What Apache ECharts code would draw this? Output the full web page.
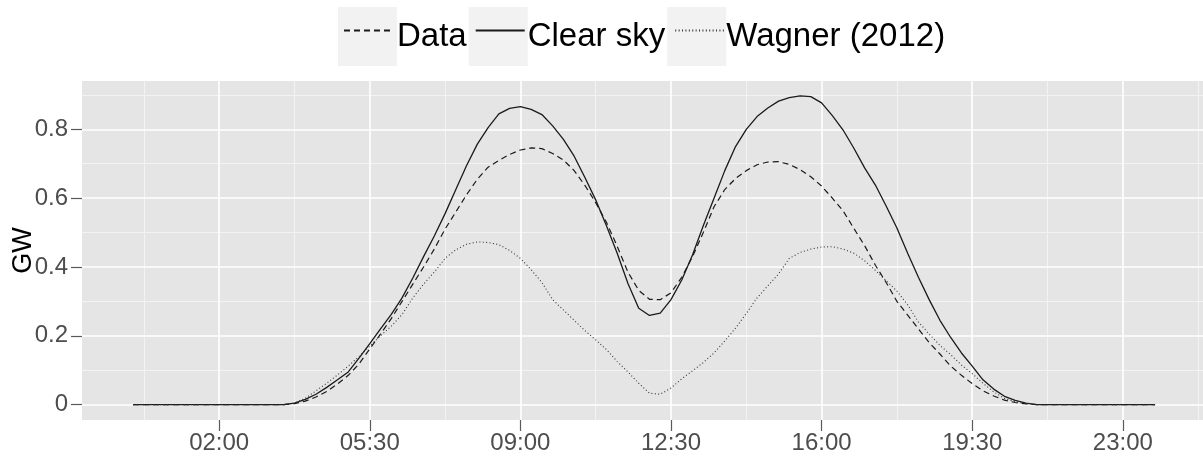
<!DOCTYPE html>
<html>
<head>
<meta charset="utf-8">
<script src="https://cdn.jsdelivr.net/npm/echarts@6/dist/echarts.min.js"></script>
<style>
  html, body { margin: 0; padding: 0; background: #ffffff; }
  #chart { width: 1203px; height: 457px; }
</style>
</head>
<body>
<div id="chart"></div>
<script>
// Quarter-hour sampling times over the day
const times = [
  '00:00','00:15','00:30','00:45','01:00','01:15','01:30','01:45',
  '02:00','02:15','02:30','02:45','03:00','03:15','03:30','03:45',
  '04:00','04:15','04:30','04:45','05:00','05:15','05:30','05:45',
  '06:00','06:15','06:30','06:45','07:00','07:15','07:30','07:45',
  '08:00','08:15','08:30','08:45','09:00','09:15','09:30','09:45',
  '10:00','10:15','10:30','10:45','11:00','11:15','11:30','11:45',
  '12:00','12:15','12:30','12:45','13:00','13:15','13:30','13:45',
  '14:00','14:15','14:30','14:45','15:00','15:15','15:30','15:45',
  '16:00','16:15','16:30','16:45','17:00','17:15','17:30','17:45',
  '18:00','18:15','18:30','18:45','19:00','19:15','19:30','19:45',
  '20:00','20:15','20:30','20:45','21:00','21:15','21:30','21:45',
  '22:00','22:15','22:30','22:45','23:00','23:15','23:30','23:45'
];

// Power output, GW
const measured = [
  0,0,0,0,0,0,0,0, 0,0,0,0,0,0,0,0.003,
  0.010,0.022,0.038,0.060,0.085,0.118,0.162,0.205,
  0.250,0.300,0.350,0.400,0.452,0.510,0.560,0.610,
  0.655,0.690,0.710,0.727,0.740,0.746,0.744,0.730,
  0.711,0.680,0.637,0.587,0.530,0.460,0.385,0.332,
  0.306,0.305,0.325,0.370,0.430,0.500,0.575,0.625,
  0.657,0.680,0.697,0.705,0.706,0.698,0.683,0.662,
  0.635,0.600,0.563,0.512,0.462,0.405,0.355,0.300,
  0.260,0.220,0.180,0.147,0.112,0.085,0.061,0.040,
  0.025,0.013,0.006,0.002,0,0,0,0,
  0,0,0,0,0,0,0,0
];

const clearSky = [
  0,0,0,0,0,0,0,0, 0,0,0,0,0,0,0,0.004,
  0.015,0.030,0.050,0.072,0.095,0.135,0.177,0.220,
  0.262,0.310,0.368,0.430,0.490,0.555,0.625,0.695,
  0.757,0.805,0.845,0.861,0.866,0.858,0.843,0.810,
  0.771,0.722,0.660,0.595,0.520,0.440,0.352,0.280,
  0.259,0.266,0.305,0.362,0.435,0.520,0.600,0.680,
  0.750,0.800,0.837,0.862,0.882,0.892,0.897,0.895,
  0.877,0.840,0.798,0.745,0.688,0.638,0.577,0.513,
  0.440,0.370,0.305,0.245,0.195,0.150,0.112,0.072,
  0.045,0.024,0.012,0.004,0,0,0,0,
  0,0,0,0,0,0,0,0
];

const wagner = [
  0,0,0,0,0,0,0,0, 0,0,0,0,0,0,0,0.004,
  0.018,0.040,0.062,0.086,0.112,0.140,0.170,0.200,
  0.228,0.262,0.310,0.350,0.385,0.425,0.450,0.466,
  0.473,0.471,0.465,0.448,0.425,0.392,0.355,0.305,
  0.275,0.245,0.215,0.188,0.160,0.125,0.095,0.062,
  0.033,0.030,0.048,0.075,0.098,0.122,0.150,0.185,
  0.222,0.265,0.310,0.345,0.380,0.425,0.442,0.452,
  0.458,0.459,0.452,0.440,0.418,0.390,0.360,0.330,
  0.290,0.240,0.205,0.172,0.145,0.115,0.090,0.062,
  0.037,0.018,0.008,0.003,0,0,0,0,
  0,0,0,0,0,0,0,0
];

const seriesNames = ['Data', 'Clear sky', 'Wagner (2012)'];
const xTickLabels = ['02:00', '05:30', '09:00', '12:30', '16:00', '19:30', '23:00'];
const yTickValues = [0, 0.2, 0.4, 0.6, 0.8];
const yMinorValues = [0.1, 0.3, 0.5, 0.7, 0.9];

function toMinutes(t) {
  const parts = t.split(':').map(Number);
  return parts[0] * 60 + parts[1];
}
function toClock(min) {
  const h = Math.floor(min / 60), m = Math.round(min % 60);
  return String(h).padStart(2, '0') + ':' + String(m).padStart(2, '0');
}
function pairs(values) {
  return times.map((t, i) => [toMinutes(t), values[i]]);
}

const xTicks = xTickLabels.map(toMinutes);
const xStep = xTicks[1] - xTicks[0];
const xMinor = xTicks.map(v => v - xStep / 2).concat([xTicks[xTicks.length - 1] + xStep / 2]);

const FONT = '"Liberation Sans", Arial, Helvetica, sans-serif';
const LINE = '#1a1a1a';

// Panel grid lines (major white, minor lighter), drawn beneath the curves
const gridLines = []
  .concat(xMinor.map(v => ({ xAxis: v, lineStyle: { color: '#f3f3f3', width: 1, type: 'solid' } })))
  .concat(yMinorValues.map(v => ({ yAxis: v, lineStyle: { color: '#f3f3f3', width: 1, type: 'solid' } })))
  .concat(xTicks.map(v => ({ xAxis: v, lineStyle: { color: '#ffffff', width: 1.6, type: 'solid' } })))
  .concat(yTickValues.map(v => ({ yAxis: v, lineStyle: { color: '#ffffff', width: 1.6, type: 'solid' } })));

const chart = echarts.init(document.getElementById('chart'), null, { renderer: 'canvas' });

chart.setOption({
  animation: false,
  backgroundColor: '#ffffff',
  textStyle: { fontFamily: FONT },
  grid: {
    left: 82, right: 0, top: 81, bottom: 37,
    outerBoundsMode: 'none',
    containLabel: false,
    show: true, backgroundColor: '#e5e5e5', borderWidth: 0
  },
  legend: [
    {
      data: seriesNames,
      left: 338, top: 7, padding: 0,
      orient: 'horizontal',
      icon: 'rect',
      itemWidth: 59, itemHeight: 59, itemGap: 2,
      selectedMode: false,
      itemStyle: { color: '#f2f2f2', borderWidth: 0 },
      textStyle: { fontSize: 33, color: '#000000', fontFamily: FONT, padding: [5, 0, 0, -5] }
    },
    {
      data: seriesNames,
      left: 343, top: 7, padding: 0, z: 5,
      orient: 'horizontal',
      itemWidth: 49, itemHeight: 59, itemGap: 12,
      selectedMode: false,
      itemStyle: { color: 'rgba(0,0,0,0)', borderWidth: 0, opacity: 0 },
      textStyle: { fontSize: 33, color: 'rgba(0,0,0,0)', fontFamily: FONT, padding: [5, 0, 0, -5] }
    }
  ],
  xAxis: {
    type: 'value',
    min: -71.25,
    max: 1491.8,
    axisLine: { show: false, onZero: false },
    splitLine: { show: false },
    axisTick: {
      show: true, length: 11, customValues: xTicks,
      lineStyle: { color: '#5a5a5a', width: 1.2 }
    },
    axisLabel: {
      customValues: xTicks,
      formatter: v => toClock(v),
      fontSize: 24, color: '#4d4d4d', margin: 11, fontFamily: FONT
    }
  },
  yAxis: {
    type: 'value',
    min: -0.0448,
    max: 0.9405,
    name: 'GW',
    nameLocation: 'middle',
    nameRotate: 90,
    nameGap: 45,
    nameMoveOverlap: false,
    nameTextStyle: { fontSize: 27, color: '#000000', fontFamily: FONT },
    axisLine: { show: false, onZero: false },
    splitLine: { show: false },
    axisTick: {
      show: true, length: 11, customValues: yTickValues,
      lineStyle: { color: '#5a5a5a', width: 1.2 }
    },
    axisLabel: {
      customValues: yTickValues,
      formatter: v => (v === 0 ? '0' : v.toFixed(1)),
      fontSize: 24, color: '#4d4d4d', margin: 14, fontFamily: FONT
    }
  },
  series: [
    {
      name: '_panelGrid',
      type: 'line',
      data: [],
      silent: true,
      z: 1,
      markLine: {
        z: 1,
        silent: true,
        symbol: ['none', 'none'],
        label: { show: false },
        emphasis: { disabled: true },
        animation: false,
        data: gridLines
      }
    },
    {
      name: seriesNames[0],
      type: 'line',
      data: pairs(measured),
      symbol: 'none',
      z: 3,
      lineStyle: { color: LINE, width: 1.2, type: [6, 4] },
      itemStyle: { color: LINE }
    },
    {
      name: seriesNames[1],
      type: 'line',
      data: pairs(clearSky),
      symbol: 'none',
      z: 3,
      lineStyle: { color: LINE, width: 1.3, type: 'solid' },
      itemStyle: { color: LINE }
    },
    {
      name: seriesNames[2],
      type: 'line',
      data: pairs(wagner),
      symbol: 'none',
      z: 3,
      lineStyle: { color: '#333333', width: 1.1, type: [1, 2.4] },
      itemStyle: { color: '#333333' }
    }
  ]
});
</script>
</body>
</html>
